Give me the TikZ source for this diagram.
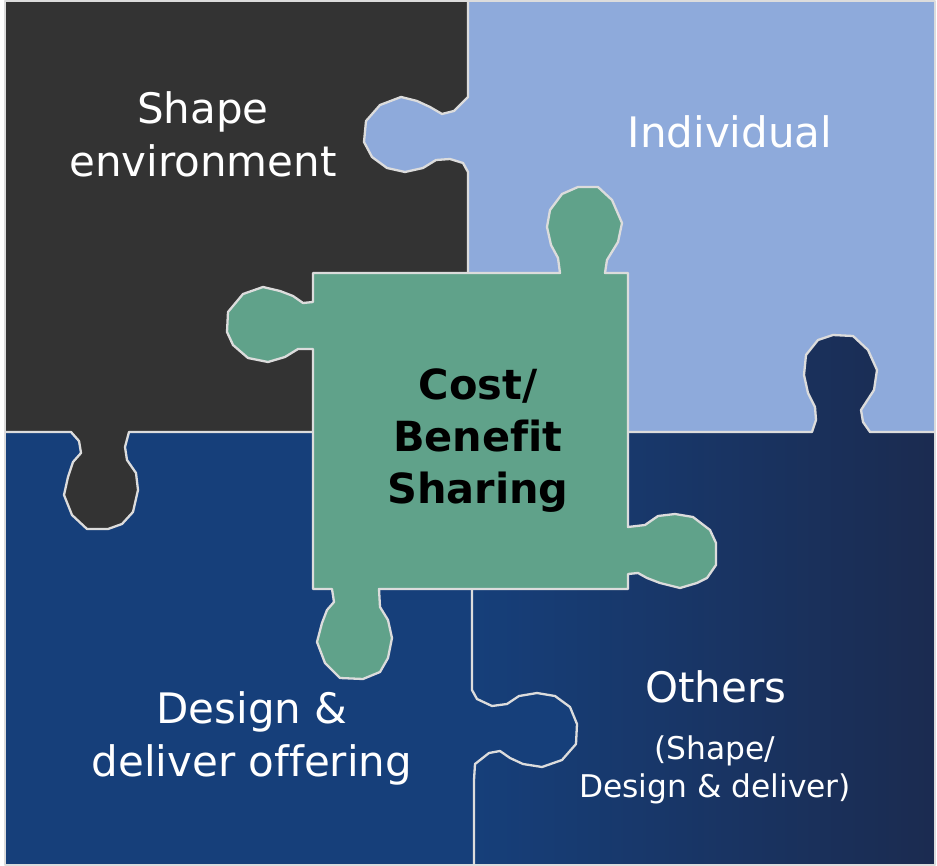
\documentclass[tikz,border=0pt]{standalone}
\usepackage{fontspec}
\setmainfont{DejaVu Sans}[Ligatures=NoCommon]
\definecolor{cDark}{HTML}{333333}
\definecolor{cLight}{HTML}{8EAADB}
\definecolor{cBL}{HTML}{163F7A}
\definecolor{cBRr}{HTML}{1B2B50}
\definecolor{cGreen}{HTML}{60A28A}
\definecolor{cLine}{HTML}{DCDCDC}
\tikzset{
  edge/.style={draw=cLine, line width=2.3pt, line join=round},
  bigtext/.style={text=white, align=center, inner sep=0pt, font=\fontsize{42}{53}\selectfont},
  smalltext/.style={text=white, align=center, inner sep=0pt, font=\fontsize{31.3}{38}\selectfont},
  centertext/.style={text=black, align=center, inner sep=0pt, font=\fontsize{41.5}{52}\selectfont\bfseries}
}
\begin{document}
\begin{tikzpicture}[x=1pt,y=-1pt]
\useasboundingbox (0,0) rectangle (937,866);
\fill[white] (0,0) rectangle (937,866);
% dark piece base
\fill[cDark] (5,1) rectangle (468,432);
% light blue piece with tab into dark
\fill[cLight] (468,1) -- (935,1) -- (935,432) -- (468,432) -- (468,172) -- (463,163) -- (450,159) -- (436,160) -- (423,168) -- (405,172) -- (387,168) -- (372,157) -- (364,142) -- (366,121) -- (380,105) -- (401,97) -- (417,101) -- (430,107) -- (442,114) -- (454,111) -- (468,97) -- cycle;
% bottom right piece with tab into light blue
\shade[left color=cBL, right color=cBRr] (472,432) -- (812,432) -- (816,420) -- (815,407) -- (808,393) -- (804,375) -- (806,355) -- (818,340) -- (833,335) -- (853,336) -- (868,350) -- (877,370) -- (874,390) -- (861,410) -- (863,422) -- (870,432) -- (935,432) -- (935,865) -- (472,865) -- cycle;
% bottom left piece with tab into bottom right
\fill[cBL] (5,432) -- (472,432) -- (472,690) -- (477,699) -- (492,706) -- (507,704) -- (519,696) -- (537,693) -- (555,696) -- (570,707) -- (577,724) -- (576,744) -- (562,760) -- (542,767) -- (523,764) -- (510,758) -- (500,751) -- (489,753) -- (475,764) -- (474,780) -- (474,865) -- (5,865) -- cycle;
% dark tab into bottom left
\fill[cDark] (71,428) -- (71,432) -- (79,441) -- (81,453) -- (73,462) -- (68,477) -- (64,495) -- (72,515) -- (87,529) -- (108,529) -- (122,524) -- (133,512) -- (138,490) -- (136,473) -- (127,460) -- (125,447) -- (129,432) -- (129,428) -- cycle;
% boundaries
\coordinate (v1a) at (468,1);
\coordinate (v1b) at (468,273);
\draw[edge] (v1a) -- (468,97) -- (454,111) -- (442,114) -- (430,107) -- (417,101) -- (401,97) -- (380,105) -- (366,121) -- (364,142) -- (372,157) -- (387,168) -- (405,172) -- (423,168) -- (436,160) -- (450,159) -- (463,163) -- (468,172) -- (v1b);
\coordinate (h1a) at (5,432);
\coordinate (h1b) at (313,432);
\draw[edge] (h1a) -- (71,432) -- (79,441) -- (81,453) -- (73,462) -- (68,477) -- (64,495) -- (72,515) -- (87,529) -- (108,529) -- (122,524) -- (133,512) -- (138,490) -- (136,473) -- (127,460) -- (125,447) -- (129,432) -- (h1b);
\coordinate (h2a) at (628,432);
\coordinate (h2b) at (935,432);
\draw[edge] (h2a) -- (812,432) -- (816,420) -- (815,407) -- (808,393) -- (804,375) -- (806,355) -- (818,340) -- (833,335) -- (853,336) -- (868,350) -- (877,370) -- (874,390) -- (861,410) -- (863,422) -- (870,432) -- (h2b);
\coordinate (v2a) at (472,589);
\coordinate (v2b) at (474,865);
\draw[edge] (v2a) -- (472,690) -- (477,699) -- (492,706) -- (507,704) -- (519,696) -- (537,693) -- (555,696) -- (570,707) -- (577,724) -- (576,744) -- (562,760) -- (542,767) -- (523,764) -- (510,758) -- (500,751) -- (489,753) -- (475,764) -- (474,780) -- (v2b);
\draw[edge] (5,1) rectangle (935,865);
% central green piece
\fill[cGreen, edge] (313,273) -- (560,273) -- (558,258) -- (551,245) -- (547,227) -- (550,210) -- (562,194) -- (578,187) -- (598,187) -- (612,200) -- (622,223) -- (618,242) -- (607,260) -- (605,273) -- (628,273) -- (628,527) -- (645,525) -- (658,516) -- (675,514) -- (693,517) -- (710,530) -- (716,543) -- (716,565) -- (707,578) -- (697,583) -- (680,588) -- (660,583) -- (647,578) -- (638,573) -- (628,574) -- (628,589) -- (379,589) -- (380,607) -- (388,620) -- (392,638) -- (388,658) -- (380,672) -- (363,679) -- (340,678) -- (325,663) -- (317,642) -- (322,623) -- (327,610) -- (334,602) -- (332,589) -- (313,589) -- (313,349) -- (298,349) -- (285,357) -- (268,362) -- (248,358) -- (233,345) -- (227,332) -- (228,312) -- (243,294) -- (263,287) -- (280,291) -- (293,296) -- (303,303) -- (313,302) -- cycle;
% texts
\node[bigtext] (shape) at (203,134) {Shape\\environment};
\node[bigtext] (indiv) at (730,132) {Individual};
\node[centertext] (cost) at (478,441) {Cost/\\Benefit\\Sharing};
\node[bigtext] (design) at (252,738) {Design \&\\deliver offering};
\node[bigtext] (others) at (716,687) {Others};
\node[smalltext] (othsub) at (715,770) {(Shape/\\Design \& deliver)};
\end{tikzpicture}
\end{document}
